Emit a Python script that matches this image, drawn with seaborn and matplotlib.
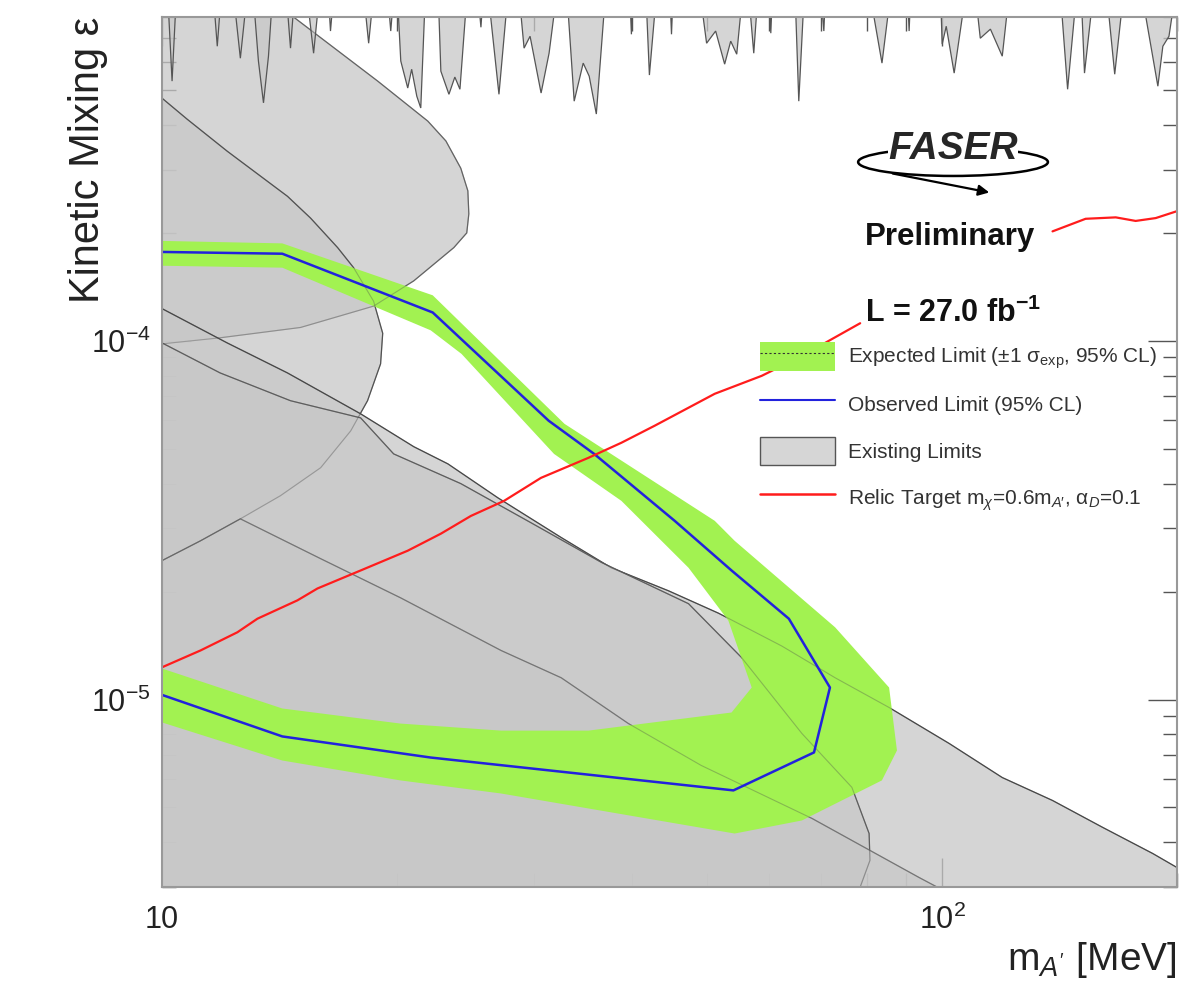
import numpy as np
import pandas as pd
import matplotlib
matplotlib.use("Agg")
import matplotlib.pyplot as plt
import seaborn as sns
from matplotlib.patches import Patch, Ellipse
from matplotlib.lines import Line2D
from matplotlib.ticker import LogLocator, NullFormatter, FixedLocator, FixedFormatter

sns.set_style("ticks")
plt.rcParams['font.family'] = ['Liberation Sans', 'DejaVu Sans']
plt.rcParams['mathtext.fontset'] = 'custom'
plt.rcParams['mathtext.rm'] = 'Liberation Sans'
plt.rcParams['mathtext.it'] = 'Liberation Sans:italic'
plt.rcParams['mathtext.bf'] = 'Liberation Sans:bold'

# observed limit (95% CL), closed contour
obs_mass = [10, 14.26, 22.23, 31.3, 35.8, 45.4, 53.7, 63.6, 71.8, 68.5, 54.0, 22.1, 14.26, 10]
obs_eps = [1.77e-4, 1.75e-4, 1.20e-4, 5.99e-5, 4.84e-5, 3.15e-5, 2.29e-5, 1.68e-5, 1.08e-5,
           7.12e-6, 5.58e-6, 6.89e-6, 7.89e-6, 1.03e-5]

# expected limit +-1 sigma band (outer edge, then inner edge back)
band_mass = [10, 14.26, 22.23, 32.8, 51.1, 54.2, 72.9, 85.5, 87.5, 83.7, 66.1, 54.2, 27.2, 20.2, 14.26, 10,
             10, 14.26, 20.2, 27.2, 35.2, 53.7, 57.0, 53.2, 47.3, 38.8, 31.8, 24.2, 22.1, 14.26, 10]
band_eps = [1.90e-4, 1.87e-4, 1.34e-4, 5.87e-5, 3.15e-5, 2.77e-5, 1.59e-5, 1.08e-5, 7.21e-6, 5.95e-6,
            4.60e-6, 4.23e-6, 5.47e-6, 5.95e-6, 6.76e-6, 8.63e-6,
            1.22e-5, 9.44e-6, 8.57e-6, 8.19e-6, 8.19e-6, 9.20e-6, 1.08e-5, 1.66e-5, 2.33e-5, 3.58e-5,
            4.84e-5, 9.20e-5, 1.07e-4, 1.60e-4, 1.62e-4]

# relic target, two pieces (hidden behind the labels in between)
relic_mass_a = [10, 11.2, 12.49, 13.25, 14.91, 15.82, 17.97, 20.65, 22.77, 24.88, 27.44, 30.6, 35.2,
                38.8, 42.8, 51.1, 58.7, 66.1, 78.5]
relic_eps_a = [1.23e-5, 1.37e-5, 1.54e-5, 1.68e-5, 1.89e-5, 2.04e-5, 2.29e-5, 2.60e-5, 2.90e-5, 3.25e-5,
               3.58e-5, 4.15e-5, 4.72e-5, 5.20e-5, 5.80e-5, 7.12e-5, 7.99e-5, 9.08e-5, 1.12e-4]
relic_mass_b = [138.5, 152.7, 166.9, 177, 187.8, 200]
relic_eps_b = [2.02e-4, 2.19e-4, 2.21e-4, 2.16e-4, 2.20e-4, 2.30e-4]

# existing limits
ell_mass = [10, 14.74, 14.74, 18.90, 21.91, 23.11, 24.15, 24.66, 24.73, 24.58, 23.66, 21.02, 18.67,
            15.05, 11.87, 10]
ell_eps = [1.5e-3, 1.5e-3, 8.0e-4, 5.30e-4, 4.10e-4, 3.61e-4, 3.03e-4, 2.62e-4, 2.26e-4, 2.00e-4,
           1.82e-4, 1.47e-4, 1.25e-4, 1.09e-4, 1.02e-4, 9.81e-5]

circ_mass = [10, 10.77, 12.12, 14.48, 15.50, 16.79, 17.60, 18.67, 19.18, 19.06, 18.34, 17.45, 15.97,
             14.18, 12.60, 11.2, 10]
circ_eps = [4.75e-4, 4.15e-4, 3.38e-4, 2.53e-4, 2.20e-4, 1.82e-4, 1.60e-4, 1.29e-4, 1.05e-4, 8.63e-5,
            6.81e-5, 5.61e-5, 4.43e-5, 3.70e-5, 3.19e-5, 2.77e-5, 2.44e-5]

dump_mass = [10, 12.12, 14.48, 17.97, 21.02, 23.25, 26.95, 32.48, 37.65, 44.58, 51.69, 62.28, 72.9,
             85.5, 102.1, 119.4, 138.5, 160.6, 186.2, 200, 200, 10]
dump_eps = [1.23e-4, 9.87e-5, 8.14e-5, 6.26e-5, 5.07e-5, 4.54e-5, 3.65e-5, 2.83e-5, 2.33e-5, 2.01e-5,
            1.74e-5, 1.41e-5, 1.15e-5, 9.50e-6, 7.54e-6, 6.06e-6, 5.23e-6, 4.40e-6, 3.72e-6, 3.40e-6,
            1e-6, 1e-6]

arc_mass = [10, 11.87, 14.61, 17.97, 19.81, 24.15, 29.72, 36.6, 47.3, 55.3, 66.1, 76.6, 80.6, 80.8,
            78.5, 77.0, 10]
arc_eps = [9.87e-5, 8.14e-5, 6.81e-5, 6.10e-5, 4.84e-5, 4.00e-5, 3.11e-5, 2.41e-5, 1.85e-5, 1.31e-5,
           8.04e-6, 5.69e-6, 4.23e-6, 3.56e-6, 3.0e-6, 1e-6, 1e-6]

low_mass = [10, 11.2, 12.60, 15.97, 20.23, 27.2, 32.48, 39.61, 49.1, 68.1, 93.4, 98.5, 106, 10]
low_eps = [2.44e-5, 2.77e-5, 3.19e-5, 2.47e-5, 1.92e-5, 1.37e-5, 1.15e-5, 8.57e-6, 6.55e-6, 4.66e-6,
           3.19e-6, 3.0e-6, 1e-6, 1e-6]

T = 1e-3  # above the frame
spike_mass = [10,
              10.15, 10.30, 10.45,
              11.60, 11.77, 11.94,
              12.30, 12.60, 12.90,
              13.05, 13.29, 13.49, 13.69, 13.89,
              14.39, 14.61, 14.83,
              15.27, 15.64, 15.97,
              16.30, 16.44, 16.64,
              18.07, 18.40, 18.73,
              19.41, 19.64, 19.87,
              19.99, 20.23, 20.65, 20.89, 21.21, 21.46, 21.78,
              22.57, 22.77, 23.32, 23.73, 24.09, 24.66,
              25.32, 25.63, 25.86,
              26.09, 27.03, 27.84,
              28.59, 29.11, 29.63, 30.61, 31.34, 32.19,
              32.96, 33.75, 34.66, 35.28, 36.03, 37.11,
              39.72, 39.96, 40.19,
              41.65, 42.14, 43.15,
              44.71, 44.98, 45.25,
              48.72, 49.89, 51.24, 52.62, 53.57, 54.53, 55.67,
              56.33, 57.34, 58.20,
              59.94, 60.30, 60.66,
              64.71, 65.49, 66.66,
              69.67, 70.52, 70.94,
              80.32, 83.72, 86.24,
              90.16, 90.70, 91.24,
              99.40, 100.0, 101.2, 103.6, 107.7,
              109.9, 111.9, 115.3, 119.4, 122.3,
              141.4, 144.8, 149.1,
              150.5, 152.2, 156.8,
              162.0, 166.4, 171.4,
              179.2, 189.0, 191.8, 195.3, 200.0]
spike_eps = [T,
             T, 5.30e-4, T,
             T, 6.63e-4, T,
             T, 6.14e-4, T,
             T, 6.03e-4, 4.61e-4, 6.22e-4, T,
             T, 6.55e-4, T,
             T, 6.34e-4, T,
             T, 7.31e-4, T,
             T, 6.76e-4, T,
             T, 7.31e-4, T,
             T, 6.03e-4, 5.07e-4, 5.72e-4, 4.81e-4, 4.46e-4, T,
             T, 5.65e-4, 4.87e-4, 5.44e-4, 5.03e-4, T,
             T, 7.49e-4, T,
             T, 4.87e-4, T,
             T, 6.55e-4, 7.07e-4, 4.91e-4, 6.34e-4, T,
             T, 4.66e-4, 5.95e-4, 5.47e-4, 4.29e-4, T,
             T, 7.16e-4, T,
             T, 5.51e-4, T,
             T, 7.16e-4, T,
             T, 6.76e-4, 7.31e-4, 5.91e-4, 6.85e-4, 6.30e-4, T,
             T, 6.34e-4, T,
             T, 7.21e-4, T,
             T, 4.66e-4, T,
             T, 7.31e-4, T,
             T, 5.95e-4, T,
             T, 7.31e-4, T,
             T, 6.72e-4, 7.54e-4, 5.58e-4, T,
             T, 6.98e-4, 7.40e-4, 6.22e-4, T,
             T, 5.03e-4, T,
             T, 5.58e-4, T,
             T, 5.54e-4, T,
             T, 5.13e-4, 6.63e-4, 7.07e-4, T]

green = '#a2f251'
blue = '#2222dd'
red = '#ff1c1c'
grey_fill = (0.784, 0.784, 0.784, 0.75)

fig = plt.figure(figsize=(12.04, 9.94), dpi=100)
ax = fig.add_axes([0.1346, 0.1076, 0.8430, 0.8753])
ax.set_xscale('log')
ax.set_yscale('log')

regions = [(ell_mass, ell_eps, '#707070'), (circ_mass, circ_eps, '#555555'),
           (dump_mass, dump_eps, '#444444'), (arc_mass, arc_eps, '#666666'),
           (low_mass, low_eps, '#8a8a8a'), (spike_mass, spike_eps, '#555555')]
for m, e, ec in regions:
    ax.fill(m, e, facecolor=grey_fill, edgecolor=ec, lw=0.9, zorder=1)

ax.fill(band_mass, band_eps, facecolor=green, edgecolor='none', zorder=2)
for m, e, ec in regions[:5]:
    ax.fill(m, e, facecolor='none', edgecolor=(0.3, 0.3, 0.3, 0.35), lw=0.8, zorder=2.2)

obs = pd.DataFrame({'mass': obs_mass, 'eps': obs_eps})
sns.lineplot(data=obs, x='mass', y='eps', sort=False, estimator=None, color=blue, lw=1.8, ax=ax, zorder=3)
relic_a = pd.DataFrame({'mass': relic_mass_a, 'eps': relic_eps_a})
relic_b = pd.DataFrame({'mass': relic_mass_b, 'eps': relic_eps_b})
sns.lineplot(data=relic_a, x='mass', y='eps', sort=False, estimator=None, color=red, lw=1.6, ax=ax, zorder=3)
sns.lineplot(data=relic_b, x='mass', y='eps', sort=False, estimator=None, color=red, lw=1.6, ax=ax, zorder=3)

ax.set_xlim(10, 200)
ax.set_ylim(3e-6, 8e-4)

ax.xaxis.set_major_locator(FixedLocator([10, 100]))
ax.xaxis.set_major_formatter(FixedFormatter(['10', r'$10^{2}$']))
ax.xaxis.set_minor_locator(LogLocator(base=10, subs=np.arange(2, 10)))
ax.xaxis.set_minor_formatter(NullFormatter())
ax.yaxis.set_major_locator(LogLocator(base=10))
ax.yaxis.set_minor_locator(LogLocator(base=10, subs=np.arange(2, 10)))
ax.yaxis.set_minor_formatter(NullFormatter())
ax.tick_params(which='both', direction='in', top=True, right=True, color='#555555', width=1,
               labelcolor='#222222', labelsize=22)
ax.tick_params(which='major', length=21)
ax.tick_params(which='minor', length=10)
ax.tick_params(axis='x', which='major', pad=13)
ax.tick_params(axis='y', which='major', pad=8)
for s in ax.spines.values():
    s.set_color('#999999')
    s.set_linewidth(1.5)
    s.set_zorder(4)

ax.set_ylabel('Kinetic Mixing ε', fontsize=30, color='#222222', loc='top')
ax.yaxis.set_label_coords(-0.053, 1.0)
ax.set_xlabel(r"m$_{A'}$ [MeV]", fontsize=28, color='#222222', loc='right')
ax.xaxis.set_label_coords(1.0, -0.061)

# FASER logo + labels
ax.add_patch(Ellipse((0.7793, 0.8333), 0.187, 0.032, transform=ax.transAxes, fill=False,
                     lw=1.8, color='black', zorder=5))
ax.text(0.7793, 0.848, 'FASER', transform=ax.transAxes, fontsize=28, fontweight='bold',
        fontstyle='italic', ha='center', va='center', zorder=6,
        bbox=dict(facecolor='white', edgecolor='none', pad=0))
ax.annotate('', xy=(0.8177, 0.7977), xytext=(0.7172, 0.8207), xycoords='axes fraction',
            arrowprops=dict(arrowstyle='-|>', color='black', lw=1.6, mutation_scale=16))
ax.text(0.6926, 0.738, 'Preliminary', transform=ax.transAxes, fontsize=22.5, fontweight='bold',
        ha='left', va='baseline', color='#111111')
ax.text(0.6926, 0.6494, r'L = 27.0 fb$^{\mathbf{-1}}$', transform=ax.transAxes, fontsize=22,
        fontweight='bold', ha='left', va='baseline', color='#111111')

handles = [(Patch(facecolor=green, edgecolor='none'), Line2D([], [], color='#333333', ls=(0, (2, 2)), lw=0.8)),
           Line2D([], [], color=blue, lw=1.5),
           Patch(facecolor='#d6d6d6', edgecolor='#555555', lw=1),
           Line2D([], [], color=red, lw=1.8)]
labels = [r'Expected Limit (±1 σ$_{\rm exp}$, 95% CL)', 'Observed Limit (95% CL)', 'Existing Limits',
          r'Relic Target m$_{\chi}$=0.6m$_{A\prime}$, α$_{D}$=0.1']
leg = ax.legend(handles, labels, loc='upper left', bbox_to_anchor=(0.589, 0.6264), frameon=False,
                fontsize=15, handlelength=3.6, handleheight=1.75, labelspacing=0.87,
                handletextpad=0.63, borderpad=0, borderaxespad=0)
for t in leg.get_texts():
    t.set_color('#333333')

fig.savefig('out.png', dpi=100)
